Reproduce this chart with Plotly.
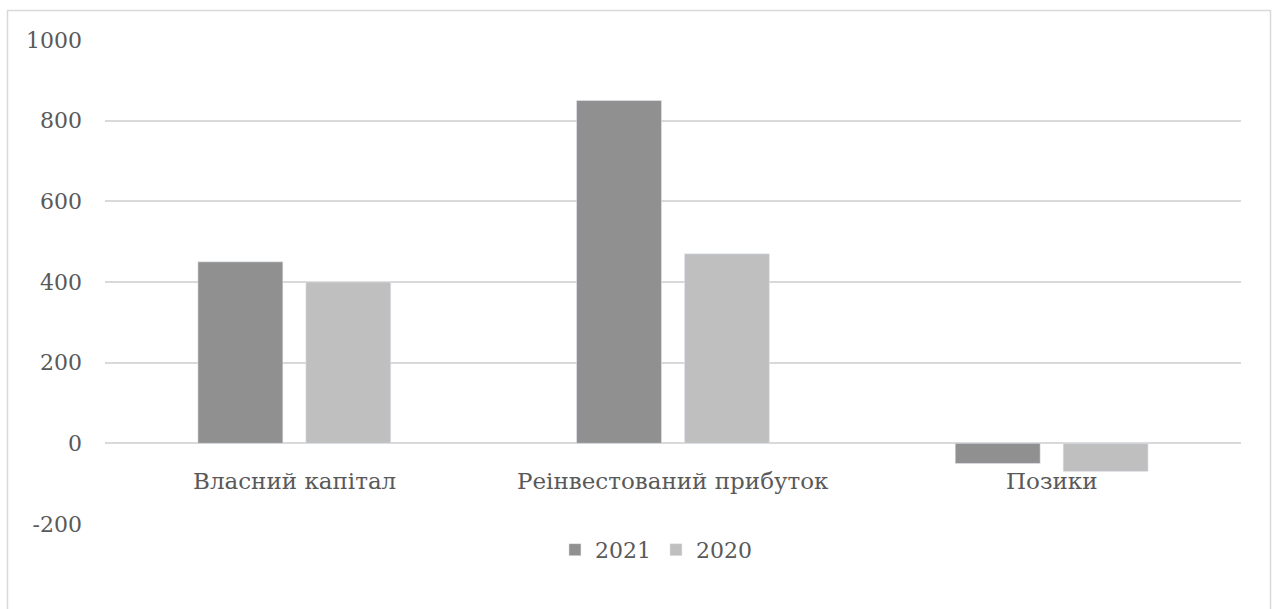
import plotly.graph_objects as go

categories = ["Власний капітал", "Реінвестований прибуток", "Позики"]
values_2021 = [450, 850, -50]
values_2020 = [400, 470, -70]
y_ticks = [-200, 0, 200, 400, 600, 800, 1000]
y_tick_labels = [str(v) for v in y_ticks]

text_color = "#595959"
grid_color = "#d9d9d9"
font_family = "DejaVu Serif"
font_size = 22

fig = go.Figure()
fig.add_trace(go.Bar(name="2021", x=categories, y=values_2021, marker_color="#909090"))
fig.add_trace(go.Bar(name="2020", x=categories, y=values_2020, marker_color="#bfbfbf"))

# category labels sit just under the zero line
for cat in categories:
    fig.add_annotation(x=cat, y=0, xref="x", yref="y", text=cat, showarrow=False,
                       yanchor="top", yshift=-23,
                       font=dict(family=font_family, size=23, color=text_color))

# outer chart frame
fig.add_shape(type="rect", xref="paper", yref="paper",
              x0=(7.5 - 105) / 1136, x1=(1270.5 - 105) / 1136,
              y0=-0.2, y1=(524 - 10.5) / 484,
              line=dict(color="#d9d9d9", width=1.5), fillcolor="rgba(0,0,0,0)")

fig.update_layout(
    width=1274, height=609,
    margin=dict(l=105, r=33, t=40, b=85),
    paper_bgcolor="white", plot_bgcolor="white",
    barmode="group", bargap=0.43, bargroupgap=0.213,
    font=dict(family=font_family, size=font_size, color=text_color),
    showlegend=True,
    legend=dict(orientation="h", x=0.485, xanchor="center", y=-0.01, yanchor="top",
                font=dict(family=font_family, size=font_size, color=text_color),
                itemwidth=30, tracegroupgap=0),
    xaxis=dict(showticklabels=False, showgrid=False, zeroline=False, showline=False),
    yaxis=dict(range=[-200, 1000], tickvals=y_ticks, ticktext=y_tick_labels,
               showgrid=True, gridcolor=grid_color,
               gridwidth=1.5, zeroline=True, zerolinecolor=grid_color, zerolinewidth=1.5,
               showline=False, ticklabelstandoff=22,
               tickfont=dict(family=font_family, size=font_size, color=text_color)),
)

fig.write_html("out.html")
